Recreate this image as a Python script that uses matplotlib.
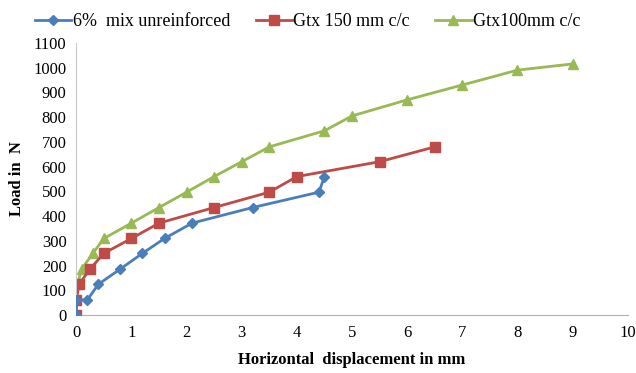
import matplotlib
matplotlib.use('Agg')
from matplotlib import pyplot as plt

plt.rcParams['font.family'] = ['Liberation Serif', 'DejaVu Serif']

# data
unreinf_x = [0, 0, 0.2, 0.4, 0.8, 1.2, 1.6, 2.1, 3.2, 4.4, 4.5]
unreinf_y = [0, 62, 62, 125, 187, 250, 310, 372, 435, 497, 560]

gtx150_x = [0, 0, 0.05, 0.25, 0.5, 1.0, 1.5, 2.5, 3.5, 4.0, 5.5, 6.5]
gtx150_y = [0, 62, 125, 187, 250, 310, 372, 435, 497, 560, 620, 680]

gtx100_x = [0, 0, 0.02, 0.1, 0.3, 0.5, 1.0, 1.5, 2.0, 2.5, 3.0, 3.5, 4.5, 5.0, 6.0, 7.0, 8.0, 9.0]
gtx100_y = [0, 62, 125, 187, 250, 310, 372, 435, 497, 560, 620, 680, 745, 805, 870, 930, 990, 1015]

fig = plt.figure(figsize=(6.36, 3.73), dpi=100)
ax = fig.add_axes([0.12, 0.155, 0.867, 0.73])

ax.plot(unreinf_x, unreinf_y, color='#4a7ebb', marker='D', markersize=5, lw=2,
        label='6%  mix unreinforced', zorder=3)
ax.plot(gtx150_x, gtx150_y, color='#be4b48', marker='s', markersize=7, lw=2,
        label='Gtx 150 mm c/c', zorder=2)
ax.plot(gtx100_x, gtx100_y, color='#98b954', marker='^', markersize=7, lw=2,
        label='Gtx100mm c/c', zorder=1)

ax.set_xlim(0, 10)
ax.set_ylim(0, 1100)
ax.set_xticks(range(0, 11))
ax.set_yticks(range(0, 1101, 100))
ax.tick_params(length=0, labelsize=12, pad=7)

for s in ['top', 'right']:
    ax.spines[s].set_visible(False)
ax.spines['left'].set_color('#c8c8c8')
ax.spines['bottom'].set_color('#b0b0b0')

ax.set_xlabel('Horizontal  displacement in mm', fontsize=12, fontweight='bold', labelpad=8)
ax.set_ylabel('Load in  N', fontsize=12, fontweight='bold', labelpad=6)

ax.legend(loc='lower center', bbox_to_anchor=(0.42, 1.0), ncol=3, frameon=False,
          fontsize=13, handlelength=2.0, handletextpad=0.1, columnspacing=1.4,
          borderaxespad=0.3)

fig.savefig('out.png', dpi=100)
